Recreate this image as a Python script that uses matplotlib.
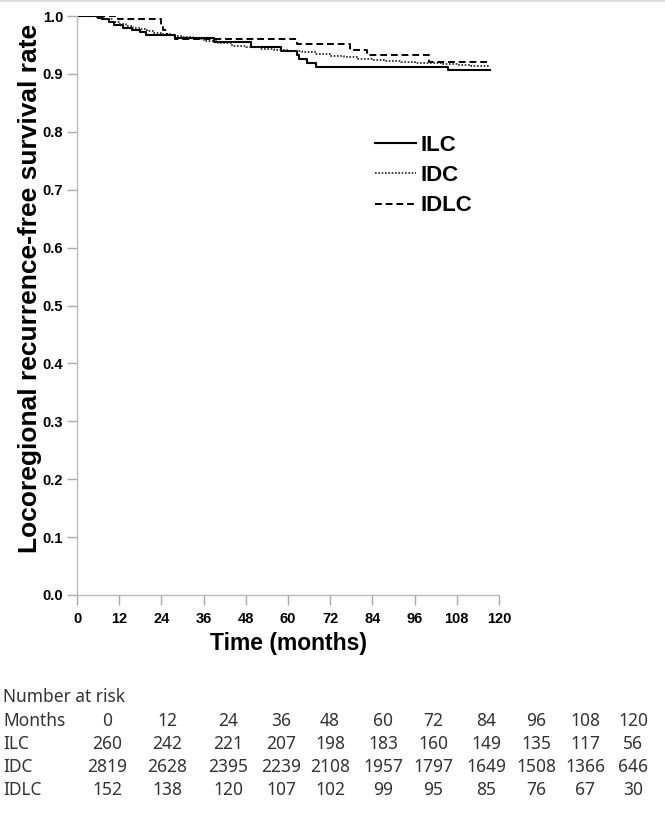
import numpy as np
import matplotlib
matplotlib.use("Agg")
import matplotlib.pyplot as plt
from matplotlib.lines import Line2D
from matplotlib.font_manager import FontProperties

## survival curves (months, survival after step)
ilc_t = [0, 6, 7, 9, 10.5, 13, 15.5, 18, 19.5, 28, 39, 49.5, 58, 62.5, 63, 65.5, 68, 105.5, 117.5]
ilc_s = [1.0, 0.997, 0.994, 0.990, 0.985, 0.980, 0.976, 0.972, 0.967, 0.962, 0.955, 0.946, 0.940,
         0.933, 0.925, 0.918, 0.912, 0.907, 0.907]

idc_t = [0, 5, 8, 10, 12, 14, 16, 18, 20, 22, 24, 27, 30, 33, 36, 40, 44, 48, 52, 56, 60, 64, 68,
         72, 76, 80, 84, 88, 92, 96, 100, 104, 108, 112, 117.5]
idc_s = [1.0, 0.998, 0.994, 0.990, 0.986, 0.983, 0.980, 0.977, 0.974, 0.971, 0.969, 0.966, 0.963,
         0.960, 0.957, 0.953, 0.949, 0.946, 0.943, 0.941, 0.939, 0.937, 0.934, 0.931, 0.929, 0.926,
         0.924, 0.922, 0.920, 0.919, 0.918, 0.917, 0.915, 0.914, 0.913]

idlc_t = [0, 11.8, 23.8, 24.5, 25.5, 28, 62.5, 77.5, 82.5, 100, 117.5]
idlc_s = [1.0, 0.994, 0.985, 0.975, 0.968, 0.961, 0.951, 0.941, 0.932, 0.920, 0.920]

## number at risk table
months = [0, 12, 24, 36, 48, 60, 72, 84, 96, 108, 120]
risk_ilc = [260, 242, 221, 207, 198, 183, 160, 149, 135, 117, 56]
risk_idc = [2819, 2628, 2395, 2239, 2108, 1957, 1797, 1649, 1508, 1366, 646]
risk_idlc = [152, 138, 120, 107, 102, 99, 95, 85, 76, 67, 30]

W, H = 665, 813
fig = plt.figure(figsize=(W / 100, H / 100), dpi=100)
ax = fig.add_axes([77 / W, 1 - 595 / H, 422 / W, 579 / H])

bold = dict(family=["Liberation Sans", "DejaVu Sans"], weight="bold")

l1, = ax.step(ilc_t, ilc_s, where="post", color="black", lw=1.5, label="ILC")
l2, = ax.step(idc_t, idc_s, where="post", color="#222222", lw=1.2, ls=(0, (1, 1)), label="IDC")
l3, = ax.step(idlc_t, idlc_s, where="post", color="black", lw=1.4, ls=(0, (3.5, 2)), label="IDLC")

ax.set_xlim(0, 120)
ax.set_ylim(0, 1.0)
ax.set_xticks(months)
ax.set_yticks(np.arange(0, 1.01, 0.1))
ax.set_yticklabels([f"{v:.1f}" for v in np.arange(0, 1.01, 0.1)])
for lab in ax.get_xticklabels() + ax.get_yticklabels():
    lab.set_fontproperties(FontProperties(**bold, size=10.5))
ax.tick_params(direction="out", length=7, width=1, color="#aaaaaa", pad=3)
ax.tick_params(axis="x", pad=5)

for s in ["top", "right"]:
    ax.spines[s].set_visible(False)
for s in ["left", "bottom"]:
    ax.spines[s].set_color("#bbbbbb")
    ax.spines[s].set_linewidth(1)

ax.set_ylabel("Locoregional recurrence-free survival rate", fontsize=19, **bold)
ax.yaxis.set_label_coords(-0.083, 0.53)
ax.set_xlabel("Time (months)", fontsize=16.5, **bold)
ax.xaxis.set_label_coords(0.5, -0.064)

leg = ax.legend(handles=[l1, l2, l3], loc="upper left", bbox_to_anchor=(0.706, 0.795),
                frameon=False, handlelength=1.85, handletextpad=0.2, labelspacing=0.42,
                borderpad=0, borderaxespad=0, prop=dict(**bold, size=16))

# thin gray border at the top of the image
fig.add_artist(Line2D([0, 1], [1 - 1.5 / H, 1 - 1.5 / H], color="#dddddd", lw=1.5))

# number at risk table
col_x = [107, 167, 228, 281, 330, 383, 433, 486, 536, 585, 633]
tfont = dict(family=["Noto Sans", "DejaVu Sans"], size=12.5, color="#333333", va="center")
fig.text(3 / W, 1 - 697 / H, "Number at risk", ha="left", **tfont)
rows = [("Months", months, 721), ("ILC", risk_ilc, 744), ("IDC", risk_idc, 767), ("IDLC", risk_idlc, 790)]
for name, vals, y in rows:
    fig.text(3 / W, 1 - y / H, name, ha="left", **tfont)
    for cx, v in zip(col_x, vals):
        fig.text(cx / W, 1 - y / H, str(v), ha="center", **tfont)

fig.savefig("out.png", dpi=100)
